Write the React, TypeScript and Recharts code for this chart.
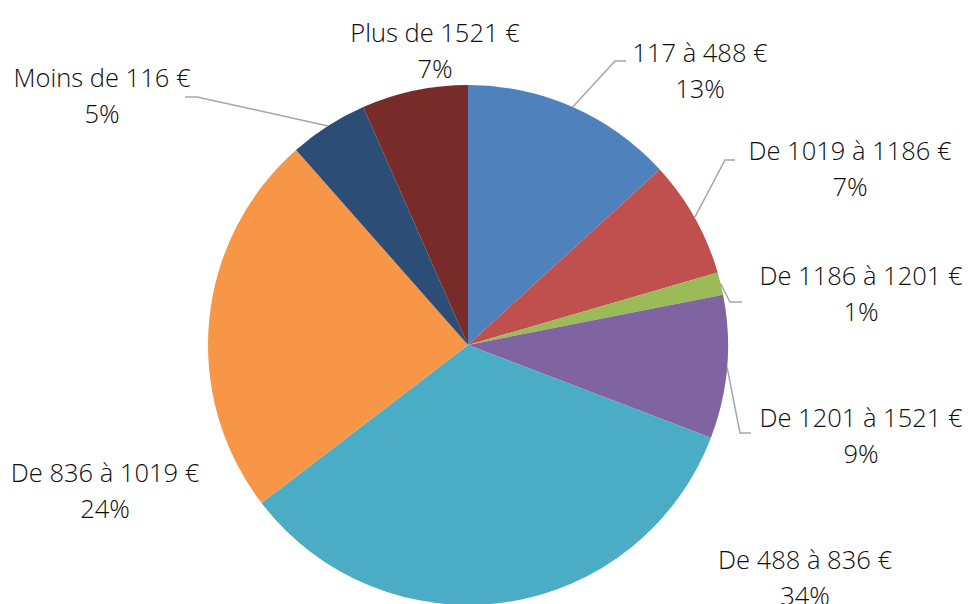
import { PieChart, Pie, Cell } from 'recharts';

const categories = [
  '117 à 488 €',
  'De 1019 à 1186 €',
  'De 1186 à 1201 €',
  'De 1201 à 1521 €',
  'De 488 à 836 €',
  'De 836 à 1019 €',
  'Moins de 116 €',
  'Plus de 1521 €',
];
const shares = [13.2, 7.3, 1.4, 8.9, 33.8, 23.9, 4.9, 6.6];
const colors = ['#4F81BD', '#C0504D', '#9BBB59', '#8064A2', '#4BACC6', '#F79646', '#2C4D75', '#772C2A'];

// label centre relative to pie centre
const labelOffsets: [number, number][] = [
  [232, -293],
  [382, -195],
  [393, -70],
  [393, 72],
  [337, 214],
  [-363, 127],
  [-366, -268],
  [-33, -313],
];
// leader line elbow + end (relative to centre), null = no line
const leaders: ([number, number, number] | null)[] = [
  [147, -284, 158],
  [257, -185, 267],
  [262, -43, 274],
  [272, 88, 283],
  null,
  null,
  [-271, -248, -283],
  null,
];

const data = categories.map((name, i) => ({ name, value: shares[i] }));

const RAD = Math.PI / 180;

function renderLabel(props: any) {
  const { cx, cy, midAngle, outerRadius, index, percent, name } = props;
  const [dx, dy] = labelOffsets[index];
  const lx = cx + dx;
  const ly = cy + dy;
  const lead = leaders[index];
  let line = null;
  if (lead) {
    const sx = cx + outerRadius * Math.cos(-midAngle * RAD);
    const sy = cy + outerRadius * Math.sin(-midAngle * RAD);
    line = (
      <polyline
        points={`${sx},${sy} ${cx + lead[0]},${cy + lead[1]} ${cx + lead[2]},${cy + lead[1]}`}
        fill="none"
        stroke="#A6A6A6"
        strokeWidth={1.5}
      />
    );
  }
  const textProps = {
    textAnchor: 'middle' as const,
    dominantBaseline: 'central' as const,
    fill: '#0d0d0d',
    fontFamily: "'Open Sans', sans-serif",
    fontWeight: 300,
    fontSize: 25.5,
  };
  return (
    <g key={`lbl-${index}`}>
      {line}
      <text x={lx} y={ly} {...textProps}>
        {name}
      </text>
      <text x={lx} y={ly + 36} {...textProps}>
        {`${Math.round(percent * 100)}%`}
      </text>
    </g>
  );
}

export default function App() {
  return (
    <div style={{ width: 968, height: 604, background: '#fff' }}>
      <style>{`body{margin:0}.recharts-pie-sectors{filter:drop-shadow(0 0 10px rgba(0,0,0,0.38));}`}</style>
      <PieChart width={968} height={604} margin={{ top: 0, right: 0, bottom: 0, left: 0 }}>
        <Pie
          data={data}
          dataKey="value"
          nameKey="name"
          cx={468}
          cy={345}
          outerRadius={260}
          startAngle={90}
          endAngle={-270}
          stroke="none"
          label={renderLabel}
          labelLine={false}
          isAnimationActive={false}
        >
          {data.map((d, i) => (
            <Cell key={d.name} fill={colors[i]} />
          ))}
        </Pie>
      </PieChart>
    </div>
  );
}
